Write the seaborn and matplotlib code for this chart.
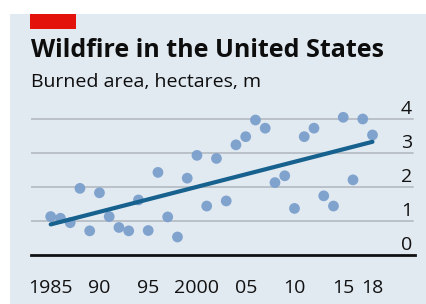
import matplotlib
matplotlib.use("Agg")
import matplotlib.pyplot as plt
import matplotlib.patches as mpatches
import matplotlib.transforms as mtransforms
import seaborn as sns
import pandas as pd

years = list(range(1985, 2019))
burned = [1.13, 1.08, 0.95, 1.96, 0.71, 1.83, 1.13, 0.81, 0.71, 1.62,
          0.72, 2.43, 1.12, 0.53, 2.26, 2.93, 1.44, 2.84, 1.59, 3.24,
          3.48, 3.97, 3.73, 2.13, 2.33, 1.37, 3.48, 3.73, 1.74, 1.44,
          4.05, 2.21, 4.00, 3.53]
trend_years = [1985, 2018]
trend_values = [0.90, 3.33]
xtick_pos = [1985, 1990, 1995, 2000, 2005, 2010, 2015, 2018]
xtick_labels = ["1985", "90", "95", "2000", "05", "10", "15", "18"]
ytick_pos = [0, 1, 2, 3, 4]
ytick_labels = ["0", "1", "2", "3", "4"]

df = pd.DataFrame({"year": years, "burned": burned})
trend = pd.DataFrame({"year": trend_years, "value": trend_values})

sns.set_style("white")
plt.rcParams["font.family"] = ["Open Sans", "DejaVu Sans"]

W, H = 426, 304
fig = plt.figure(figsize=(W / 100, H / 100), dpi=100, facecolor="white")

# light blue panel
fig.patches.append(mpatches.Rectangle((10 / W, 0), 1 - 10 / W, 1 - 14 / H,
                                      transform=fig.transFigure, facecolor="#e1e9f1",
                                      edgecolor="none", zorder=-2))
# red tag
fig.patches.append(mpatches.Rectangle((30 / W, 1 - 29 / H), 46 / W, 15 / H,
                                      transform=fig.transFigure, facecolor="#e3120b",
                                      edgecolor="none", zorder=-1))

fig.text(31 / W, 1 - 57 / H, "Wildfire in the United States", fontsize=18,
         fontweight="bold", color="#0d0d0d", ha="left", va="baseline")
fig.text(31 / W, 1 - 87 / H, "Burned area, hectares, m", fontsize=14,
         color="#0d0d0d", ha="left", va="baseline")

ax = fig.add_axes([31 / W, (H - 255) / H, 384 / W, 153 / H])
ax.set_zorder(5)
ax.set_facecolor("none")
ax.set_xlim(1982.98, 2022.36)
ax.set_ylim(0, 4.5)

for v in ytick_pos[1:]:
    ax.plot([1982.98, 2022.15], [v, v], color="#b9c0c7", lw=1.4, zorder=1)

sns.scatterplot(data=df, x="year", y="burned", ax=ax, s=60, color="#7b9fcd",
                edgecolor="none", alpha=0.95, zorder=3, legend=False)
sns.lineplot(data=trend, x="year", y="value", ax=ax, color="#17618f", lw=3,
             zorder=4, legend=False)

ax.set_xlabel("")
ax.set_ylabel("")
for s in ["top", "left", "right"]:
    ax.spines[s].set_visible(False)
ax.spines["bottom"].set_color("#111111")
ax.spines["bottom"].set_linewidth(2)
ax.set_xticks(xtick_pos)
ax.set_xticklabels(xtick_labels, fontsize=14, color="#111111")
ax.tick_params(axis="x", direction="out", length=6, width=1.5, color="#111111", pad=11)
ax.set_yticks([])

trans = mtransforms.blended_transform_factory(ax.transAxes, ax.transData)
offset = mtransforms.offset_copy(trans, fig=fig, x=-2, y=0.5, units="points")
for v, lab in zip(ytick_pos, ytick_labels):
    ax.text(1.0, v, lab, transform=offset, ha="right", va="bottom",
            fontsize=14, color="#111111")

fig.savefig("out.png", dpi=100, facecolor="white")
